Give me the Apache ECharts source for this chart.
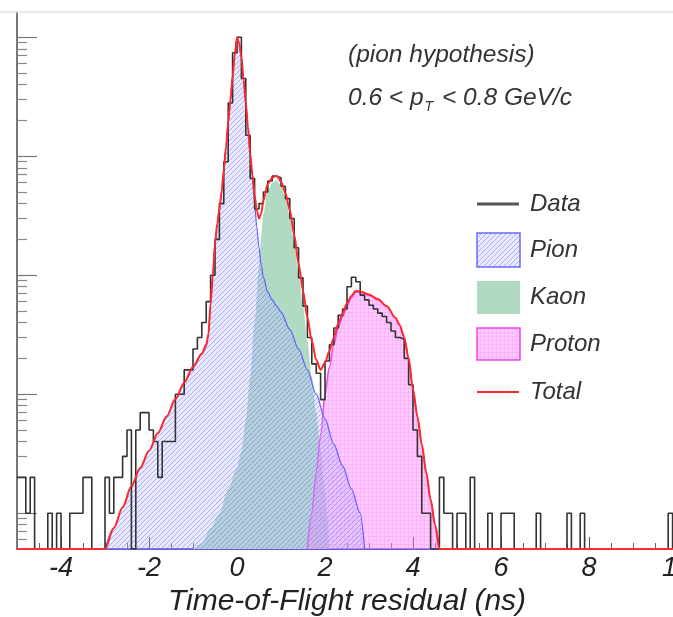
<!DOCTYPE html>
<html><head><meta charset="utf-8">
<script src="https://cdn.jsdelivr.net/npm/echarts@6/dist/echarts.min.js"></script>
<style>html,body{margin:0;padding:0;background:#fff}#c{width:673px;height:617px}</style>
</head><body><div id="c"></div>
<script>
// ---------- data ----------
const X_MIN = -5, X_MAX = 10;
const Y_MIN = 0.5, Y_MAX = 16300;
const BIN_LOW = -5, BIN_WIDTH = 0.1;
// histogram counts, one per 0.1 ns bin from -5 to 10
const dataCounts = [
  2,2,1,2,0,0,0,1,0,1,
  0,0,1,1,1,2,2,0,0,0,
  2,1,2,2,3,5,0,5,7,7,
  5,4,2,4,4,4,10,10,16,16,
  24,30,40,60,100,200,400,900,2800,7400,
  10000,4500,1500,650,360,400,500,620,680,660,
  560,440,300,170,95,55,30,18,15,9,
  19,26,36,46,52,80,96,88,68,62,
  56,52,48,45,40,34,30,29,20,12,
  5,3,1,1,0,0,2,1,1,0,
  1,1,0,2,0,0,0,1,0,0,
  1,1,1,0,0,0,0,0,1,0,
  0,0,0,0,0,1,0,0,1,0,
  0,0,0,0,0,0,0,0,0,0,
  0,0,0,0,0,0,0,0,1,0
];
const pionCurve = [[-3.0,0.5],[-2.8,0.75],[-2.6,1.12],[-2.4,1.68],[-2.2,2.4],[-2.0,3.35],[-1.8,4.7],[-1.6,6.5],[-1.4,9.1],[-1.2,12.4],[-1.0,16.7],[-0.8,21.5],[-0.7,25],[-0.65,31],[-0.6,57],[-0.55,99],[-0.5,184],[-0.45,268],[-0.4,358],[-0.35,497],[-0.3,765],[-0.25,1190],[-0.2,1890],[-0.15,2990],[-0.1,4690],[-0.05,7190],[0,9990],[0.05,8880],[0.1,6780],[0.15,4380],[0.2,2780],[0.25,1730],[0.3,1030],[0.35,660],[0.4,400],[0.45,255],[0.5,170],[0.55,122],[0.6,96],[0.7,72],[0.8,62],[0.9,55],[1.0,49],[1.2,35],[1.4,24],[1.6,16],[1.8,10],[2.0,6.2],[2.2,3.8],[2.4,2.5],[2.6,1.6],[2.8,1.0],[2.9,0.5]];
const kaonCurve = [[-1.0,0.5],[-0.8,0.56],[-0.6,0.75],[-0.4,1.0],[-0.2,1.6],[0.0,2.4],[0.1,3.3],[0.2,6],[0.3,14],[0.4,40],[0.5,120],[0.55,215],[0.6,330],[0.7,515],[0.8,600],[0.9,630],[1.0,565],[1.1,450],[1.2,318],[1.3,192],[1.4,101],[1.5,56],[1.6,28],[1.7,14],[1.8,7],[1.9,3.4],[2.0,1.5],[2.1,0.5]];
const protonCurve = [[1.6,0.5],[1.7,1.0],[1.8,2.2],[1.9,4.5],[2.0,10],[2.1,17],[2.2,26],[2.3,36],[2.4,45],[2.5,55],[2.6,65],[2.7,72],[2.8,72],[3.0,68],[3.2,62.5],[3.4,55],[3.6,44],[3.7,38],[3.8,30],[3.9,20],[4.0,11],[4.1,6.5],[4.2,3.8],[4.3,2.2],[4.4,1.3],[4.5,0.8],[4.6,0.5]];
const totalCurve = [[-5,0],[-3.0,0.5],[-2.8,0.75],[-2.6,1.12],[-2.4,1.68],[-2.2,2.4],[-2.0,3.35],[-1.8,4.7],[-1.6,6.5],[-1.4,9.1],[-1.2,12.5],[-1.0,17],[-0.8,22],[-0.7,26],[-0.65,32],[-0.6,58],[-0.55,100],[-0.5,185],[-0.45,270],[-0.4,360],[-0.35,500],[-0.3,770],[-0.25,1200],[-0.2,1900],[-0.15,3000],[-0.1,4700],[-0.05,7200],[0,10000],[0.05,8900],[0.1,6800],[0.15,4400],[0.2,2800],[0.25,1750],[0.3,1050],[0.35,700],[0.4,470],[0.45,350],[0.5,300],[0.55,330],[0.6,425],[0.7,585],[0.8,660],[0.9,685],[1.0,612],[1.1,490],[1.2,352],[1.3,220],[1.4,125],[1.5,74],[1.6,44],[1.7,28],[1.8,19.5],[1.9,16],[2.0,18.5],[2.1,23],[2.2,30],[2.3,39],[2.4,48],[2.5,58],[2.6,67],[2.7,74],[2.8,73],[3.0,69],[3.2,63],[3.4,55],[3.6,44],[3.7,38],[3.8,30],[3.9,20],[4.0,11],[4.1,6.5],[4.2,3.8],[4.3,2.2],[4.4,1.3],[4.5,0.8],[4.6,0.5],[10,0]];
const xTickLabels = [-4,-2,0,2,4,6,8,10];
const xMinorTicks = [-4.5,-3.5,-3,-2.5,-1.5,-1,-0.5,0.5,1,1.5,2.5,3,3.5,4.5,5,5.5,6.5,7,7.5,8.5,9,9.5];
const yMajorTicks = [1,10,100,1000,10000];
const yMinorTicks = [0.6,0.7,0.8,0.9,2,3,4,5,6,7,8,9,20,30,40,50,60,70,80,90,200,300,400,500,600,700,800,900,2000,3000,4000,5000,6000,7000,8000,9000];
const legendNames = ['Data','Pion','Kaon','Proton','Total'];
const xTitle = 'Time-of-Flight residual (ns)';

// ---------- helpers ----------
const clampY = v => (v < Y_MIN ? Y_MIN : v);
const histPoints = dataCounts.map((c, i) => [BIN_LOW + i * BIN_WIDTH, clampY(c)]);
histPoints.push([X_MAX, clampY(dataCounts[dataCounts.length - 1])]);
const curve = arr => arr.map(p => [p[0], clampY(p[1])]);

function hatchTile() {
  const s = 5, c = document.createElement('canvas'); c.width = c.height = s;
  const g = c.getContext('2d');
  g.fillStyle = 'rgba(190,190,255,0.32)'; g.fillRect(0, 0, s, s);
  g.strokeStyle = 'rgba(110,110,255,0.5)'; g.lineWidth = 1;
  g.beginPath();
  g.moveTo(0, s); g.lineTo(s, 0);
  g.moveTo(-1, 1); g.lineTo(1, -1);
  g.moveTo(s - 1, s + 1); g.lineTo(s + 1, s - 1);
  g.stroke();
  return c;
}
function gridTile() {
  const s = 4, c = document.createElement('canvas'); c.width = c.height = s;
  const g = c.getContext('2d');
  g.fillStyle = 'rgba(255,140,255,0.47)'; g.fillRect(0, 0, s, s);
  g.fillStyle = 'rgba(240,110,240,0.2)'; g.fillRect(0, 0, s, 1); g.fillRect(0, 0, 1, s);
  return c;
}
const pionFill = { image: hatchTile(), repeat: 'repeat' };
const protonFill = { image: gridTile(), repeat: 'repeat' };
const kaonColor = '#b0dac2';
const FONT = '"Liberation Sans", Arial, sans-serif';

const chart = echarts.init(document.getElementById('c'), null, { renderer: 'canvas' });
const legX = 477, legTextX = 530;
const legY = [204, 250, 297, 344, 392];
chart.setOption({
  animation: false,
  backgroundColor: '#fff',
  grid: { left: 17, top: 12, width: 660, height: 537, containLabel: false, outerBoundsMode: 'none' },
  xAxis: [{
    type: 'value', min: X_MIN, max: X_MAX, position: 'bottom',
    axisLine: { show: true, onZero: false, lineStyle: { color: '#6a5ad8', width: 2 } },
    axisTick: { show: true, inside: true, length: 12, customValues: xTickLabels, lineStyle: { color: '#555', width: 1 } },
    axisLabel: { customValues: xTickLabels, fontSize: 27, fontStyle: 'italic', fontFamily: FONT, color: '#222', margin: 6 },
    splitLine: { show: false },
    name: xTitle, nameLocation: 'middle', nameGap: 36,
    nameTextStyle: { fontSize: 30, fontStyle: 'italic', fontFamily: FONT, color: '#222', verticalAlign: 'top' }
  }, {
    type: 'value', min: X_MIN, max: X_MAX, position: 'bottom',
    axisLine: { show: false, onZero: false },
    axisTick: { show: true, inside: true, length: 6, customValues: xMinorTicks, lineStyle: { color: '#666', width: 1 } },
    axisLabel: { show: false }, splitLine: { show: false }
  }],
  yAxis: [{
    type: 'log', logBase: 10, min: Y_MIN, max: Y_MAX, position: 'left',
    axisLine: { show: true, onZero: false, lineStyle: { color: '#777', width: 2 } },
    axisTick: { show: true, inside: true, length: 20, customValues: yMajorTicks, lineStyle: { color: '#777', width: 1.2 } },
    axisLabel: { show: false }, splitLine: { show: false }
  }, {
    type: 'log', logBase: 10, min: Y_MIN, max: Y_MAX, position: 'left',
    axisLine: { show: false, onZero: false },
    axisTick: { show: true, inside: true, length: 10, customValues: yMinorTicks, lineStyle: { color: '#888', width: 1.2 } },
    axisLabel: { show: false }, splitLine: { show: false }
  }],
  series: [
    { name: 'Kaon', type: 'line', z: 2, data: curve(kaonCurve), showSymbol: false, smooth: 0.3, smoothMonotone: 'x',
      lineStyle: { width: 0 }, areaStyle: { color: kaonColor, origin: 'start', opacity: 1 } },
    { name: 'Proton', type: 'line', z: 3, data: curve(protonCurve), showSymbol: false, smooth: 0.3, smoothMonotone: 'x',
      lineStyle: { color: '#ee44ee', width: 1.5 }, areaStyle: { color: protonFill, origin: 'start', opacity: 1 } },
    { name: 'Pion', type: 'line', z: 4, data: curve(pionCurve), showSymbol: false, smooth: 0.3, smoothMonotone: 'x',
      lineStyle: { color: '#6060ff', width: 1.2 }, areaStyle: { color: pionFill, origin: 'start', opacity: 1 } },
    { name: 'Data', type: 'line', z: 5, data: histPoints, step: 'end', showSymbol: false,
      lineStyle: { color: '#333', width: 1.6 } },
    { name: 'Total', type: 'line', z: 6, data: curve(totalCurve), showSymbol: false, smooth: 0.3, smoothMonotone: 'x', clip: false,
      lineStyle: { color: '#ff2a2a', width: 2 } }
  ],
  graphic: [
    { type: 'line', z: 100, shape: { x1: 0, y1: 12, x2: 673, y2: 12 }, style: { stroke: '#e2e2e2', lineWidth: 1.5 } },
    { type: 'text', z: 100, x: 348, y: 55, style: { text: '(pion hypothesis)', font: 'italic 24.5px ' + FONT, fill: '#333', verticalAlign: 'middle' } },
    { type: 'text', z: 100, x: 348, y: 86, style: {
        text: '{a|0.6 < p}{s|T}{a| < 0.8 GeV/c}', verticalAlign: 'top',
        rich: { a: { font: 'italic 24.5px ' + FONT, fill: '#333', lineHeight: 24, verticalAlign: 'top' },
                s: { font: 'italic 14px ' + FONT, fill: '#333', lineHeight: 14, padding: [14, 2, 0, 1], verticalAlign: 'top' } } } },
    { type: 'line', z: 100, shape: { x1: legX, y1: legY[0], x2: legX + 42, y2: legY[0] }, style: { stroke: '#555', lineWidth: 3 } },
    { type: 'rect', z: 100, shape: { x: legX, y: legY[1] - 17, width: 43, height: 34 }, style: { fill: pionFill, stroke: '#6a6aff', lineWidth: 1.5 } },
    { type: 'rect', z: 100, shape: { x: legX, y: legY[2] - 16, width: 43, height: 33 }, style: { fill: kaonColor } },
    { type: 'rect', z: 100, shape: { x: legX, y: legY[3] - 16, width: 43, height: 32 }, style: { fill: protonFill, stroke: '#ee44ee', lineWidth: 1.5 } },
    { type: 'line', z: 100, shape: { x1: legX, y1: legY[4], x2: legX + 42, y2: legY[4] }, style: { stroke: '#ff2a2a', lineWidth: 2 } },
  ].concat(legendNames.map((n, i) => ({ type: 'text', z: 100, x: legTextX, y: legY[i], style: { text: n, font: 'italic 24px ' + FONT, fill: '#333', verticalAlign: 'middle' } })))
});
</script></body></html>
